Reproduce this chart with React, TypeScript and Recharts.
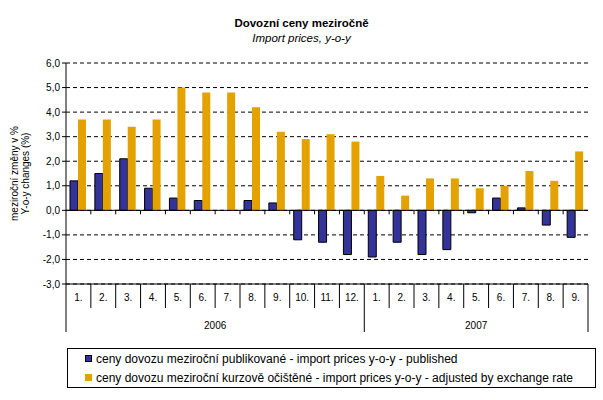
import {
    BarChart, Bar, XAxis, YAxis, CartesianGrid, ReferenceLine, Legend
} from 'recharts';

// popisky kategorií (měsíce) a roky
const months = ['1.', '2.', '3.', '4.', '5.', '6.', '7.', '8.', '9.', '10.', '11.', '12.', '1.', '2.', '3.', '4.', '5.', '6.', '7.', '8.', '9.'];
const years = ['2006', '2006', '2006', '2006', '2006', '2006', '2006', '2006', '2006', '2006', '2006', '2006', '2007', '2007', '2007', '2007', '2007', '2007', '2007', '2007', '2007'];

// hodnoty (%)
const published = [1.2, 1.5, 2.1, 0.9, 0.5, 0.4, 0, 0.4, 0.3, -1.2, -1.3, -1.8, -1.9, -1.3, -1.8, -1.6, -0.1, 0.5, 0.1, -0.6, -1.1];
const adjusted = [3.7, 3.7, 3.4, 3.7, 5.0, 4.8, 4.8, 4.2, 3.2, 2.9, 3.1, 2.8, 1.4, 0.6, 1.3, 1.3, 0.9, 1.0, 1.6, 1.2, 2.4];

const yTicks = [-3, -2, -1, 0, 1, 2, 3, 4, 5, 6];

const seriesNames = [
    'ceny dovozu meziroční publikované - import prices y-o-y - published',
    'ceny dovozu meziroční kurzově očištěné - import prices y-o-y - adjusted by exchange rate',
];

const data = months.map((m, i) => ({
    key: `${years[i]}-${m}`,
    month: m,
    year: years[i],
    published: published[i],
    adjusted: adjusted[i],
}));

const W = 603;
const H = 400;
const MARGIN = { top: 63, right: 15, left: 0, bottom: 68 };
const YAXIS_W = 66;
const XAXIS_H = 48;
const PLOT_W = W - MARGIN.left - YAXIS_W - MARGIN.right;
const BAND = PLOT_W / data.length;

const FONT = '"Liberation Sans", Arial, sans-serif';
const BLUE = '#333399';
const GOLD = '#E3A200';

const fmt = (v: number) => v.toFixed(1).replace('.', ',');

// dvouúrovňová osa: měsíce + roky
const MonthTick = (props: any) => {
    const { x, y, index } = props;
    const left = x - BAND / 2;
    const isYearStart = index === 0 || years[index] !== years[index - 1];
    const isLast = index === data.length - 1;
    let yearLabel = null;
    if (isYearStart) {
        const count = years.filter((yy) => yy === years[index]).length;
        yearLabel = (
            <text x={left + (count * BAND) / 2} y={y + 45} textAnchor="middle" fontSize={10} fill="#000" fontFamily={FONT}>
                {years[index]}
            </text>
        );
    }
    return (
        <g>
            <line x1={left} x2={left} y1={y} y2={y + (isYearStart ? XAXIS_H : 24)} stroke="#000" />
            {isLast && <line x1={x + BAND / 2} x2={x + BAND / 2} y1={y} y2={y + XAXIS_H} stroke="#000" />}
            <text x={x} y={y + 17} textAnchor="middle" fontSize={10} fill="#000" fontFamily={FONT}>
                {months[index]}
            </text>
            {yearLabel}
        </g>
    );
};

const ZeroLine = (p: any) => {
    const n = data.length;
    const step = (p.x2 - p.x1) / n;
    const marks = [];
    for (let i = 1; i < n; i++) {
        const xx = p.x1 + i * step;
        marks.push(<line key={i} x1={xx} x2={xx} y1={p.y1} y2={p.y1 + 4} stroke="#000" />);
    }
    return (
        <g>
            <line x1={p.x1} y1={p.y1} x2={p.x2} y2={p.y2} stroke="#000" strokeWidth={1} />
            {marks}
        </g>
    );
};

const YLabel = (props: any) => {
    const vb = props.viewBox || {};
    const cy = vb.y + vb.height / 2;
    return (
        <g fontFamily={FONT} fontSize={10} fill="#000">
            <text x={0} y={0} textAnchor="middle" transform={`translate(18, ${cy}) rotate(-90)`}>meziroční změny v %</text>
            <text x={0} y={0} textAnchor="middle" transform={`translate(29, ${cy}) rotate(-90)`}>Y-o-y changes (%)</text>
        </g>
    );
};

const LegendBox = (props: any) => {
    const items = [...(props.payload || [])].sort(
        (a: any, b: any) => seriesNames.indexOf(a.value) - seriesNames.indexOf(b.value)
    );
    return (
        <div style={{
            border: '1px solid #000', boxSizing: 'border-box', width: '100%', height: '100%',
            padding: '0 0 0 17px', fontFamily: FONT, fontSize: 12, color: '#000',
        }}>
            {items.map((it: any) => (
                <div key={it.value} style={{ display: 'flex', alignItems: 'center', height: 19, whiteSpace: 'nowrap' }}>
                    <span style={{
                        display: 'inline-block', width: 7, height: 7, background: it.color, flex: 'none',
                        border: it.color === BLUE ? '1px solid #000' : 'none', marginRight: 4, boxSizing: 'border-box',
                    }} />
                    <span>{it.value}</span>
                </div>
            ))}
        </div>
    );
};

export default function App() {
    return (
        <div style={{ position: 'absolute', left: 0, top: 0, width: W, height: H, background: '#fff', fontFamily: FONT }}>
            <div style={{ position: 'absolute', left: 0, width: W, top: 17, textAlign: 'center', fontSize: 11.5, fontWeight: 'bold' }}>
                Dovozní ceny meziročně
            </div>
            <div style={{ position: 'absolute', left: 0, width: W, top: 32, textAlign: 'center', fontSize: 11.5, fontStyle: 'italic' }}>
                Import prices, y-o-y
            </div>
            <BarChart width={W} height={H} data={data} margin={MARGIN} barGap={0} barSize={8}>
                <CartesianGrid vertical={false} stroke="#000" strokeDasharray="4 3" />
                <XAxis
                    dataKey="key"
                    height={XAXIS_H}
                    interval={0}
                    tickLine={false}
                    tickSize={0}
                    tickMargin={0}
                    axisLine={{ stroke: '#000' }}
                    tick={<MonthTick />}
                />
                <XAxis xAxisId="top" dataKey="key" orientation="top" height={0} tick={false} tickLine={false} axisLine={{ stroke: '#000' }} />
                <YAxis
                    width={YAXIS_W}
                    domain={[-3, 6]}
                    ticks={yTicks}
                    interval={0}
                    tickFormatter={fmt}
                    tickSize={4}
                    tickMargin={2}
                    tickLine={{ stroke: '#000' }}
                    axisLine={{ stroke: '#000' }}
                    tick={{ fontSize: 10, fill: '#000', fontFamily: FONT }}
                    label={{ content: <YLabel /> }}
                />
                <YAxis yAxisId="right" orientation="right" width={0} domain={[0, 1]} tick={false} tickLine={false} axisLine={{ stroke: '#000' }} />
                <ReferenceLine y={0} shape={ZeroLine} />
                <Legend
                    layout="vertical"
                    align="center"
                    verticalAlign="middle"
                    wrapperStyle={{ left: 67, top: 348, width: 529, height: 40 }}
                    content={<LegendBox />}
                />
                <Bar
                    dataKey="published"
                    name={seriesNames[0]}
                    fill={BLUE}
                    stroke="#000"
                    strokeWidth={1}
                    isAnimationActive={false}
                />
                <Bar
                    dataKey="adjusted"
                    name={seriesNames[1]}
                    fill={GOLD}
                    isAnimationActive={false}
                />
            </BarChart>
        </div>
    );
}
